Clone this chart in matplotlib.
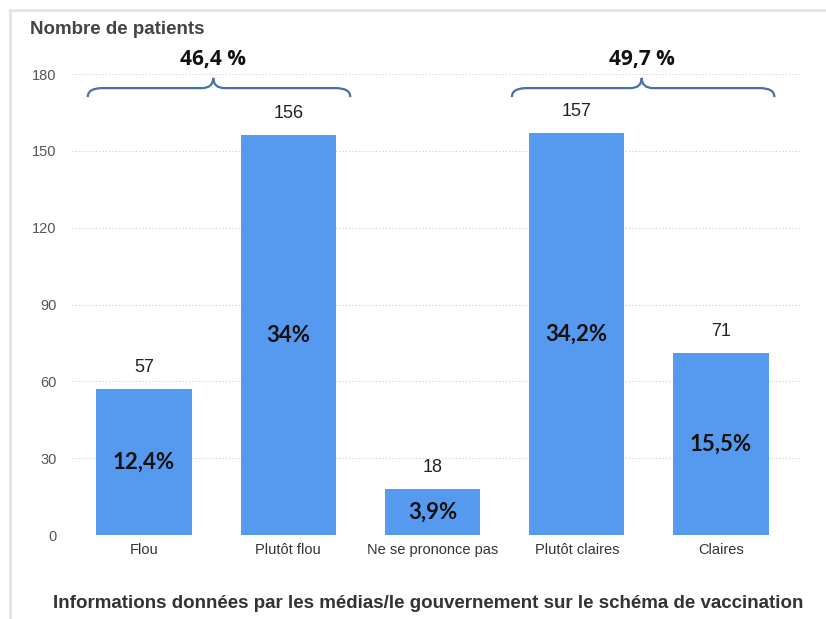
import matplotlib.pyplot as plt
from matplotlib.path import Path
from matplotlib.patches import PathPatch, Rectangle

categories = ['Flou', 'Plutôt flou', 'Ne se prononce pas', 'Plutôt claires', 'Claires']
patients = [57, 156, 18, 157, 71]
pct_labels = ['12,4%', '34%', '3,9%', '34,2%', '15,5%']
group_labels = ['46,4 %', '49,7 %']
yticks = [0, 30, 60, 90, 120, 150, 180]

bar_color = '#569af0'
brace_color = '#4a6fa8'

fig = plt.figure(figsize=(8.26, 6.19), dpi=100)
ax = fig.add_axes([0.087, 0.1357, 0.882, 0.7447])

# light frame around the chart area
fig.patches.append(Rectangle((10 / 826, -0.1), 1.2, 1 - 10 / 619 + 0.1,
                             transform=fig.transFigure, fill=False,
                             edgecolor='#e3e3e3', lw=2))

x = range(len(categories))
ax.bar(x, patients, width=0.66, color=bar_color, zorder=2)

for i, v in enumerate(patients):
    ax.text(i, v + 8.5, str(v), ha='center', va='center', fontsize=13,
            family='Liberation Sans', color='#222222')
    ax.text(i, v / 2, pct_labels[i], ha='center', va='center', fontsize=16,
            family='Lato', fontweight='bold', color='#111111')

ax.set_xlim(-0.5, 4.55)
ax.set_ylim(0, 180)
ax.set_yticks(yticks)
ax.set_xticks(list(x))
ax.set_xticklabels(categories, family='Liberation Sans', fontsize=10.5, color='#333333')
ax.tick_params(axis='y', labelsize=10.5, labelcolor='#555555', length=0, pad=11)
ax.tick_params(axis='x', length=0, pad=6)
for lbl in ax.get_yticklabels():
    lbl.set_family('Liberation Sans')

ax.grid(axis='y', linestyle=(0, (1, 2)), color='#cccccc', lw=0.8, zorder=0)
for s in ax.spines.values():
    s.set_visible(False)


def brace(x0, x1, xm, y_end, y_mid, y_tip):
    dx = 0.1
    dm = 0.08
    verts = [(x0, y_end), (x0, y_mid), (x0 + dx, y_mid),
             (xm - dm, y_mid), (xm, y_mid), (xm, y_tip),
             (xm, y_mid), (xm + dm, y_mid),
             (x1 - dx, y_mid), (x1, y_mid), (x1, y_end)]
    codes = [Path.MOVETO, Path.CURVE3, Path.CURVE3,
             Path.LINETO, Path.CURVE3, Path.CURVE3,
             Path.CURVE3, Path.CURVE3,
             Path.LINETO, Path.CURVE3, Path.CURVE3]
    ax.add_patch(PathPatch(Path(verts, codes), fill=False, edgecolor=brace_color,
                           lw=1.6, clip_on=False, zorder=3))


brace(-0.39, 1.43, 0.48, 171, 174.5, 178.5)
brace(2.55, 4.37, 3.45, 171, 174.5, 178.5)
ax.text(0.48, 185.5, group_labels[0], ha='center', va='center', fontsize=15,
        family='Open Sans', fontweight='bold', color='#111111', clip_on=False)
ax.text(3.45, 185.5, group_labels[1], ha='center', va='center', fontsize=15,
        family='Open Sans', fontweight='bold', color='#111111', clip_on=False)

fig.text(30 / 826, 1 - 30 / 619, 'Nombre de patients', ha='left', va='center',
         fontsize=13.5, fontweight='bold', family='Liberation Sans', color='#444444')
fig.text(428 / 826, 1 - 604 / 619,
         'Informations données par les médias/le gouvernement sur le schéma de vaccination',
         ha='center', va='center', fontsize=13.5, fontweight='bold',
         family='Liberation Sans', color='#333333')

fig.savefig('out.png', dpi=100)
